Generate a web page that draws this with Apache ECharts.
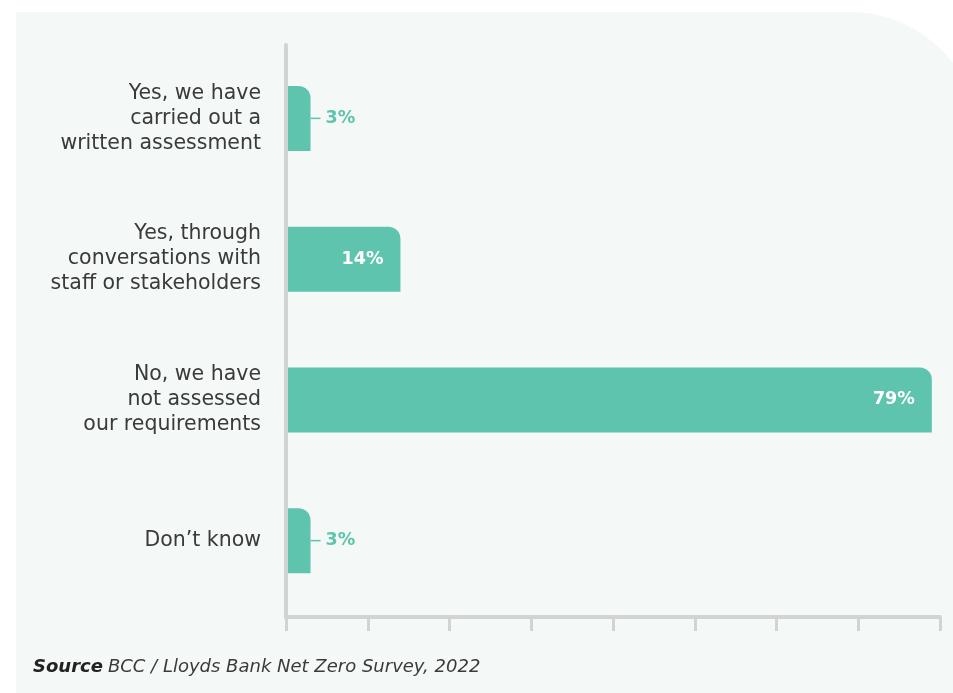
<!DOCTYPE html>
<html><head><meta charset="utf-8">
<style>html,body{margin:0;padding:0;background:#fff;}#c{width:953px;height:693px;}</style>
<script src="https://cdn.jsdelivr.net/npm/echarts@6/dist/echarts.min.js"></script>
</head><body><div id="c"></div>
<script>
var categories = ['Yes, we have\ncarried out a\nwritten assessment', 'Yes, through\nconversations with\nstaff or stakeholders', 'No, we have\nnot assessed\nour requirements', 'Don\u2019t know'];
var values = [3, 14, 79, 3];
var xTicks = [0, 10, 20, 30, 40, 50, 60, 70, 80];
var sourceLabel = 'Source';
var sourceText = 'BCC / Lloyds Bank Net Zero Survey, 2022';

var TEAL = '#5ec4ae';
var AXIS = '#d1d3d4';
var FONT = '"DejaVu Sans", sans-serif';
var chart = echarts.init(document.getElementById('c'));

var barData = values.map(function (v) {
  var inside = v >= 10;
  return {
    value: v,
    label: inside ? {
      position: 'insideRight', distance: 17, color: '#ffffff',
      formatter: '{v|' + v + '%}',
      rich: { v: { color: '#ffffff', fontSize: 17.5, fontWeight: 'bold', fontFamily: FONT } }
    } : {
      position: 'right', distance: 0,
      formatter: '{l|}{v|' + v + '%}',
      rich: {
        l: { width: 10, height: 1.5, backgroundColor: TEAL },
        v: { color: TEAL, fontSize: 17.5, fontWeight: 'bold', fontFamily: FONT, padding: [0, 0, 0, 5] }
      }
    }
  };
});

chart.setOption({
  animation: false,
  backgroundColor: '#ffffff',
  graphic: [{
    type: 'rect', z: -10, silent: true,
    shape: { x: 16, y: 12, width: 964, height: 720, r: [0, 130, 0, 0] },
    style: { fill: '#f4f8f7' }
  }],
  title: {
    left: 28, top: 653,
    text: '{b|' + sourceLabel + '} {i|' + sourceText + '}',
    textStyle: {
      rich: {
        b: { fontFamily: FONT, fontSize: 18, fontWeight: 'bold', fontStyle: 'italic', color: '#222222' },
        i: { fontFamily: FONT, fontSize: 18, fontWeight: 'normal', fontStyle: 'italic', color: '#3a3a3a' }
      }
    }
  },
  grid: [
    { left: 286, right: 13, top: 48, bottom: 82 },
    { left: 286, right: 13, top: 45, bottom: 76 }
  ],
  xAxis: [
    { gridIndex: 0, type: 'value', min: xTicks[0], max: xTicks[xTicks.length - 1], interval: 10,
      axisLine: { show: false }, axisTick: { show: false }, axisLabel: { show: false }, splitLine: { show: false } },
    { gridIndex: 1, type: 'value', min: xTicks[0], max: xTicks[xTicks.length - 1], interval: 10, z: 10,
      axisLine: { show: true, lineStyle: { color: AXIS, width: 4 } },
      axisTick: { show: true, inside: false, length: 14, lineStyle: { color: AXIS, width: 3 } },
      axisLabel: { show: false }, splitLine: { show: false } }
  ],
  yAxis: [
    { gridIndex: 0, type: 'category', inverse: true, data: categories,
      axisLine: { show: false }, axisTick: { show: false },
      axisLabel: { margin: 25, align: 'right', color: '#3a3a3a', fontSize: 20.5, lineHeight: 25, fontFamily: FONT } },
    { gridIndex: 1, type: 'category', inverse: true, data: categories, z: 10,
      axisLine: { show: true, lineStyle: { color: AXIS, width: 4 } },
      axisTick: { show: false }, axisLabel: { show: false } }
  ],
  series: [{
    type: 'bar', xAxisIndex: 0, yAxisIndex: 0,
    data: barData, barWidth: 65,
    itemStyle: { color: TEAL, borderRadius: [0, 12, 0, 0] },
    label: { show: true }
  }]
});
</script></body></html>
